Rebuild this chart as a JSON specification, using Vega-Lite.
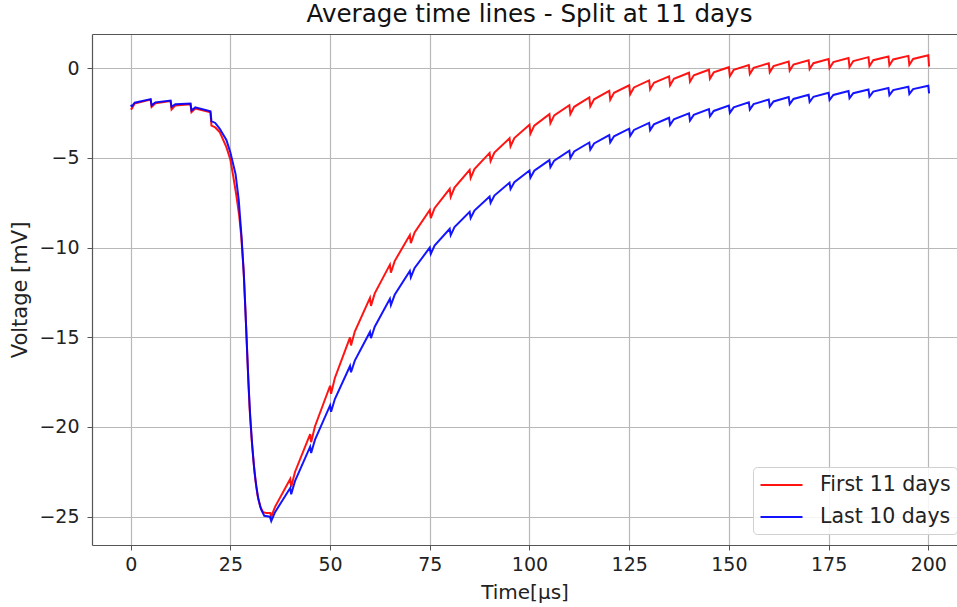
{
  "$schema": "https://vega.github.io/schema/vega-lite/v6.json",
  "width": 865,
  "height": 511,
  "autosize": {"type": "none"},
  "padding": {"left": 92, "top": 34, "right": 0, "bottom": 62},
  "background": "white",
  "title": {"text": "Average time lines - Split at 11 days", "fontSize": 24.6, "font": "DejaVu Sans", "fontWeight": "normal", "color": "#111", "offset": 6, "anchor": "middle", "dx": 5},
  "config": {"view": {"stroke": null}, "font": "DejaVu Sans"},
  "resolve": {"axis": {"x": "independent"}},
  "datasets": {
    "first": [
      {"time":0,"voltage":-2.3},{"time":0.3,"voltage":-2.25},{"time":1,"voltage":-1.97},{"time":5,"voltage":-1.75},{"time":5.25,"voltage":-2.15},{"time":6.2,"voltage":-1.95},{"time":10,"voltage":-1.83},{"time":10.25,"voltage":-2.3},{"time":11.2,"voltage":-2.07},{"time":15,"voltage":-2.0},{"time":15.25,"voltage":-2.45},{"time":16.2,"voltage":-2.25},{"time":20,"voltage":-2.45},{"time":20.25,"voltage":-3.2},{"time":21.2,"voltage":-3.3},{"time":22.3,"voltage":-3.55},{"time":24,"voltage":-4.4},{"time":25,"voltage":-5.1},{"time":25.7,"voltage":-6.0},{"time":26.5,"voltage":-7.1},{"time":27.2,"voltage":-8.2},{"time":27.7,"voltage":-9.3},{"time":28.3,"voltage":-11.2},{"time":28.8,"voltage":-13.6},{"time":29.3,"voltage":-16.3},{"time":29.8,"voltage":-18.9},{"time":30.3,"voltage":-20.6},{"time":30.8,"voltage":-21.9},{"time":31.3,"voltage":-23.0},{"time":31.8,"voltage":-23.8},{"time":32.5,"voltage":-24.45},{"time":33.2,"voltage":-24.75},{"time":34,"voltage":-24.8},{"time":35,"voltage":-24.8},{"time":35.25,"voltage":-25.0},{"time":36.2,"voltage":-24.45},
      {"time":40,"voltage":-22.9},{"time":40.25,"voltage":-23.35},{"time":41.2,"voltage":-22.51},{"time":45,"voltage":-20.4},{"time":45.25,"voltage":-20.85},{"time":46.2,"voltage":-19.97},{"time":50,"voltage":-17.7},{"time":50.25,"voltage":-18.15},{"time":51.2,"voltage":-17.27},{"time":55,"voltage":-15.0},{"time":55.25,"voltage":-15.45},{"time":56.2,"voltage":-14.68},{"time":60,"voltage":-12.8},{"time":60.25,"voltage":-13.25},{"time":61.2,"voltage":-12.55},{"time":65,"voltage":-10.95},{"time":65.25,"voltage":-11.4},{"time":66.2,"voltage":-10.75},{"time":70,"voltage":-9.3},{"time":70.25,"voltage":-9.75},{"time":71.2,"voltage":-9.15},{"time":75,"voltage":-7.9},{"time":75.25,"voltage":-8.35},{"time":76.2,"voltage":-7.8},{"time":80,"voltage":-6.72},{"time":80.25,"voltage":-7.17},{"time":81.2,"voltage":-6.65},{"time":85,"voltage":-5.67},{"time":85.25,"voltage":-6.12},{"time":86.2,"voltage":-5.62},{"time":90,"voltage":-4.72},{"time":90.25,"voltage":-5.17},{"time":91.2,"voltage":-4.7},{"time":95,"voltage":-3.9},{"time":95.25,"voltage":-4.35},{"time":96.2,"voltage":-3.89},
      {"time":100,"voltage":-3.15},{"time":100.25,"voltage":-3.65},{"time":101.2,"voltage":-3.2},{"time":105,"voltage":-2.56},{"time":105.25,"voltage":-3.06},{"time":106.2,"voltage":-2.63},{"time":110,"voltage":-2.06},{"time":110.25,"voltage":-2.56},{"time":111.2,"voltage":-2.15},{"time":115,"voltage":-1.63},{"time":115.25,"voltage":-2.13},{"time":116.2,"voltage":-1.73},{"time":120,"voltage":-1.26},{"time":120.25,"voltage":-1.76},{"time":121.2,"voltage":-1.37},{"time":125,"voltage":-0.95},{"time":125.25,"voltage":-1.45},{"time":126.2,"voltage":-1.07},{"time":130,"voltage":-0.68},{"time":130.25,"voltage":-1.18},{"time":131.2,"voltage":-0.81},{"time":135,"voltage":-0.45},{"time":135.25,"voltage":-0.95},{"time":136.2,"voltage":-0.59},{"time":140,"voltage":-0.25},{"time":140.25,"voltage":-0.75},{"time":141.2,"voltage":-0.39},{"time":145,"voltage":-0.08},{"time":145.25,"voltage":-0.58},{"time":146.2,"voltage":-0.23},
      {"time":150,"voltage":0.06},{"time":150.25,"voltage":-0.44},{"time":151.2,"voltage":-0.09},{"time":155,"voltage":0.18},{"time":155.25,"voltage":-0.32},{"time":156.2,"voltage":0.02},{"time":160,"voltage":0.28},{"time":160.25,"voltage":-0.22},{"time":161.2,"voltage":0.12},{"time":165,"voltage":0.37},{"time":165.25,"voltage":-0.13},{"time":166.2,"voltage":0.21},{"time":170,"voltage":0.45},{"time":170.25,"voltage":-0.05},{"time":171.2,"voltage":0.28},{"time":175,"voltage":0.51},{"time":175.25,"voltage":0.01},{"time":176.2,"voltage":0.34},{"time":180,"voltage":0.57},{"time":180.25,"voltage":0.07},{"time":181.2,"voltage":0.4},{"time":185,"voltage":0.62},{"time":185.25,"voltage":0.12},{"time":186.2,"voltage":0.45},{"time":190,"voltage":0.66},{"time":190.25,"voltage":0.16},{"time":191.2,"voltage":0.49},{"time":195,"voltage":0.69},{"time":195.25,"voltage":0.19},{"time":196.2,"voltage":0.52},{"time":200,"voltage":0.72},{"time":200.2,"voltage":0.1}
    ],
    "last": [
      {"time":0,"voltage":-2.05},{"time":0.3,"voltage":-2.12},{"time":1,"voltage":-1.92},{"time":5,"voltage":-1.72},{"time":5.25,"voltage":-2.07},{"time":6.2,"voltage":-1.9},{"time":10,"voltage":-1.8},{"time":10.25,"voltage":-2.15},{"time":11.2,"voltage":-2.0},{"time":15,"voltage":-1.97},{"time":15.25,"voltage":-2.35},{"time":16.2,"voltage":-2.18},{"time":20,"voltage":-2.4},{"time":20.25,"voltage":-2.95},{"time":21.2,"voltage":-3.05},{"time":22.3,"voltage":-3.36},{"time":24,"voltage":-4.0},{"time":25,"voltage":-4.7},{"time":26.3,"voltage":-5.9},{"time":27.1,"voltage":-7.35},{"time":27.8,"voltage":-9.4},{"time":28.4,"voltage":-11.6},{"time":28.9,"voltage":-14.2},{"time":29.5,"voltage":-17.4},{"time":30,"voltage":-19.5},{"time":30.5,"voltage":-21.1},{"time":31,"voltage":-22.4},{"time":31.5,"voltage":-23.3},{"time":32,"voltage":-24.0},{"time":32.7,"voltage":-24.6},{"time":33.5,"voltage":-24.95},{"time":34.9,"voltage":-25.0},{"time":35.25,"voltage":-25.25},{"time":36.2,"voltage":-24.75},
      {"time":40,"voltage":-23.4},{"time":40.25,"voltage":-23.75},{"time":41.2,"voltage":-23.02},{"time":45,"voltage":-21.1},{"time":45.25,"voltage":-21.45},{"time":46.2,"voltage":-20.72},{"time":50,"voltage":-18.8},{"time":50.25,"voltage":-19.15},{"time":51.2,"voltage":-18.44},{"time":55,"voltage":-16.6},{"time":55.25,"voltage":-16.95},{"time":56.2,"voltage":-16.3},{"time":60,"voltage":-14.7},{"time":60.25,"voltage":-15.05},{"time":61.2,"voltage":-14.41},{"time":65,"voltage":-12.85},{"time":65.25,"voltage":-13.2},{"time":66.2,"voltage":-12.63},{"time":70,"voltage":-11.3},{"time":70.25,"voltage":-11.65},{"time":71.2,"voltage":-11.13},{"time":75,"voltage":-10.0},{"time":75.25,"voltage":-10.35},{"time":76.2,"voltage":-9.89},{"time":80,"voltage":-8.95},{"time":80.25,"voltage":-9.3},{"time":81.2,"voltage":-8.86},{"time":85,"voltage":-8.0},{"time":85.25,"voltage":-8.35},{"time":86.2,"voltage":-7.93},{"time":90,"voltage":-7.15},{"time":90.25,"voltage":-7.5},{"time":91.2,"voltage":-7.1},{"time":95,"voltage":-6.38},{"time":95.25,"voltage":-6.73},{"time":96.2,"voltage":-6.35},
      {"time":100,"voltage":-5.7},{"time":100.25,"voltage":-6.1},{"time":101.2,"voltage":-5.71},{"time":105,"voltage":-5.12},{"time":105.25,"voltage":-5.52},{"time":106.2,"voltage":-5.15},{"time":110,"voltage":-4.6},{"time":110.25,"voltage":-5.0},{"time":111.2,"voltage":-4.64},{"time":115,"voltage":-4.14},{"time":115.25,"voltage":-4.54},{"time":116.2,"voltage":-4.19},{"time":120,"voltage":-3.73},{"time":120.25,"voltage":-4.13},{"time":121.2,"voltage":-3.79},{"time":125,"voltage":-3.37},{"time":125.25,"voltage":-3.77},{"time":126.2,"voltage":-3.44},{"time":130,"voltage":-3.05},{"time":130.25,"voltage":-3.45},{"time":131.2,"voltage":-3.13},{"time":135,"voltage":-2.76},{"time":135.25,"voltage":-3.16},{"time":136.2,"voltage":-2.84},{"time":140,"voltage":-2.51},{"time":140.25,"voltage":-2.91},{"time":141.2,"voltage":-2.6},{"time":145,"voltage":-2.28},{"time":145.25,"voltage":-2.68},{"time":146.2,"voltage":-2.38},
      {"time":150,"voltage":-2.08},{"time":150.25,"voltage":-2.48},{"time":151.2,"voltage":-2.18},{"time":155,"voltage":-1.9},{"time":155.25,"voltage":-2.3},{"time":156.2,"voltage":-2.0},{"time":160,"voltage":-1.74},{"time":160.25,"voltage":-2.14},{"time":161.2,"voltage":-1.85},{"time":165,"voltage":-1.6},{"time":165.25,"voltage":-2.0},{"time":166.2,"voltage":-1.71},{"time":170,"voltage":-1.48},{"time":170.25,"voltage":-1.88},{"time":171.2,"voltage":-1.59},{"time":175,"voltage":-1.37},{"time":175.25,"voltage":-1.77},{"time":176.2,"voltage":-1.49},{"time":180,"voltage":-1.27},{"time":180.25,"voltage":-1.67},{"time":181.2,"voltage":-1.39},{"time":185,"voltage":-1.18},{"time":185.25,"voltage":-1.58},{"time":186.2,"voltage":-1.3},{"time":190,"voltage":-1.1},{"time":190.25,"voltage":-1.5},{"time":191.2,"voltage":-1.22},{"time":195,"voltage":-1.03},{"time":195.25,"voltage":-1.43},{"time":196.2,"voltage":-1.16},{"time":200,"voltage":-0.97},{"time":200.2,"voltage":-1.4}
    ]
  },
  "layer": [
    {
      "data": {"name": "first"},
      "transform": [{"calculate": "'First 11 days'", "as": "series"}],
      "mark": {"type": "line", "strokeWidth": 2, "clip": true, "opacity": 0.92},
      "encoding": {
        "x": {"field": "time", "type": "quantitative",
              "scale": {"domain": [-9.7, 207.2], "nice": false, "zero": false},
              "axis": {"orient": "bottom", "values": [0,25,50,75,100,125,150,175,200], "title": "Time[μs]", "titleFontSize": 20, "titleFont": "DejaVu Sans", "titleFontWeight": "normal", "titleColor": "#222", "titlePadding": 8, "labelFontSize": 19, "labelColor": "#222", "labelPadding": 5, "tickSize": 5, "tickColor": "#555", "domainColor": "#555", "domainWidth": 1.2, "gridColor": "#b8b8b8", "gridWidth": 1.2, "grid": true}},
        "y": {"field": "voltage", "type": "quantitative",
              "scale": {"domain": [-26.58, 1.91], "nice": false, "zero": false},
              "axis": {"values": [-25,-20,-15,-10,-5,0], "title": "Voltage [mV]", "titleFontSize": 21, "titleFont": "DejaVu Sans", "titleFontWeight": "normal", "titleColor": "#222", "titlePadding": 8, "labelFontSize": 19, "labelColor": "#222", "labelPadding": 8, "tickSize": 5, "tickColor": "#555", "domainColor": "#555", "domainWidth": 1.2, "gridColor": "#b8b8b8", "gridWidth": 1.2, "grid": true}},
        "color": {"field": "series", "type": "nominal",
                  "scale": {"domain": ["First 11 days", "Last 10 days"], "range": ["#ff0000", "#0000ff"]},
                  "legend": {"title": null, "orient": "none", "legendX": 661, "legendY": 433, "symbolType": "M-1,0H3", "symbolSize": 441, "symbolStrokeWidth": 2.2, "symbolOpacity": 0.8, "symbolFillColor": "transparent", "labelFontSize": 20.5, "labelColor": "#222", "labelOffset": 37, "rowPadding": 9, "padding": 6, "fillColor": "rgba(255,255,255,0.85)", "strokeColor": "#d0d0d0", "cornerRadius": 4}}
      }
    },
    {
      "data": {"name": "last"},
      "transform": [{"calculate": "'Last 10 days'", "as": "series"}],
      "mark": {"type": "line", "strokeWidth": 2, "clip": true, "opacity": 0.92},
      "encoding": {
        "x": {"field": "time", "type": "quantitative",
              "axis": {"orient": "top", "labels": false, "ticks": false, "grid": false, "title": null, "domain": true, "domainColor": "#555", "domainWidth": 1.2}},
        "y": {"field": "voltage", "type": "quantitative"},
        "color": {"field": "series", "type": "nominal"}
      }
    }
  ]
}
